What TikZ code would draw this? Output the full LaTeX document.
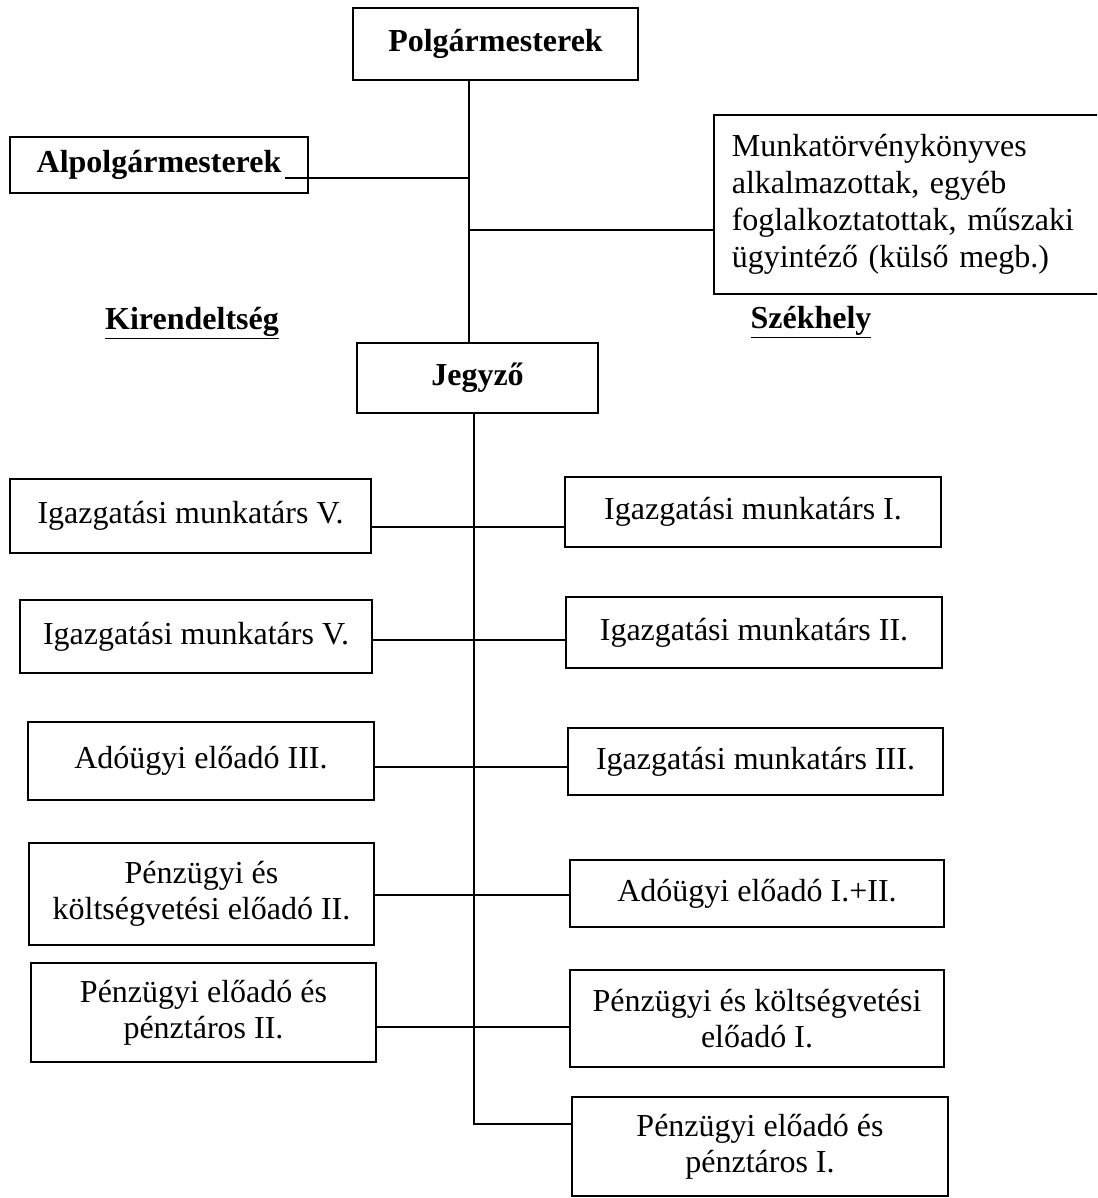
\documentclass[tikz,border=0pt]{standalone}
\usepackage{fontspec}
\setmainfont{Liberation Serif}
\begin{document}
\begin{tikzpicture}[x=1pt,y=-1pt,
  box/.style={draw, line width=1.6pt, inner sep=0pt, align=center, font=\fontsize{32}{36}\selectfont},
  bbox/.style={box, font=\fontsize{32}{36}\selectfont\bfseries},
  conn/.style={line width=1.6pt},
  lbl/.style={inner sep=0pt, font=\fontsize{32}{36}\selectfont\bfseries}]
\useasboundingbox (0,0) rectangle (1097,1198);
\clip (0,0) rectangle (1097,1198);
% top level
\node[bbox, minimum width=285pt, minimum height=72pt] (polg) at (495.5,44) {Polgármesterek};
\node[bbox, minimum width=298pt, minimum height=56pt] (alp) at (159,165) {Alpolgármesterek};
\node[box, anchor=north west, minimum width=402pt, minimum height=179pt, text width=366pt, align=left, inner xsep=18pt, font=\fontsize{32}{37}\selectfont] (munka) at (713,114)
  {Munkatörvénykönyves\\alkalmazottak, egyéb\\foglalkoztatottak, műszaki\\ügyintéző (külső megb.)};
\node[lbl] (kir) at (192,323) {\underline{Kirendeltség}};
\node[lbl] (szek) at (811,322) {\underline{Székhely}};
\node[bbox, minimum width=241pt, minimum height=70pt] (jeg) at (477.5,378) {Jegyző};
% left column
\node[box, minimum width=361pt, minimum height=74pt] (iv1) at (190.5,516) {Igazgatási munkatárs V.};
\node[box, minimum width=352pt, minimum height=73pt] (iv2) at (196,636.5) {Igazgatási munkatárs V.};
\node[box, minimum width=346pt, minimum height=78pt] (ad3) at (201,761) {\raisebox{5pt}{Adóügyi előadó III.}};
\node[box, minimum width=345pt, minimum height=102pt] (pk2) at (201.5,894) {Pénzügyi és\\költségvetési előadó II.};
\node[box, minimum width=345pt, minimum height=99pt] (pp2) at (203.5,1012.5) {Pénzügyi előadó és\\pénztáros II.};
% right column
\node[box, minimum width=376pt, minimum height=70pt] (ii1) at (753,512) {Igazgatási munkatárs I.};
\node[box, minimum width=376pt, minimum height=71pt] (ii2) at (754,632.5) {Igazgatási munkatárs II.};
\node[box, minimum width=375pt, minimum height=67pt] (ii3) at (755.5,761.5) {Igazgatási munkatárs III.};
\node[box, minimum width=374pt, minimum height=67pt] (ad12) at (757,893.5) {Adóügyi előadó I.+II.};
\node[box, minimum width=374pt, minimum height=97pt] (pk1) at (757,1018.5) {Pénzügyi és költségvetési\\előadó I.};
\node[box, minimum width=376pt, minimum height=99pt] (pp1) at (760,1146.5) {Pénzügyi előadó és\\pénztáros I.};
% spine coordinates
\coordinate (spA) at (469,0);
\coordinate (spB) at (474,0);
\coordinate (alpEnd) at (285,178);
\coordinate (mj) at (469,230);
\coordinate (c1) at (0,527);
\coordinate (c2) at (0,640);
\coordinate (c3) at (0,767);
\coordinate (c4) at (0,895);
\coordinate (c5) at (0,1027);
\coordinate (c6) at (0,1124);
% connectors
\draw[conn] (polg.south -| spA) -- (jeg.north -| spA);
\draw[conn] (alpEnd) -- (alpEnd -| spA);
\draw[conn] (mj) -- (mj -| munka.west);
\draw[conn] (jeg.south -| spB) -- (spB |- c6) -- (pp1.west |- c6);
\draw[conn] (iv1.east |- c1) -- (ii1.west |- c1);
\draw[conn] (iv2.east |- c2) -- (ii2.west |- c2);
\draw[conn] (ad3.east |- c3) -- (ii3.west |- c3);
\draw[conn] (pk2.east |- c4) -- (ad12.west |- c4);
\draw[conn] (pp2.east |- c5) -- (pk1.west |- c5);
\end{tikzpicture}
\end{document}
